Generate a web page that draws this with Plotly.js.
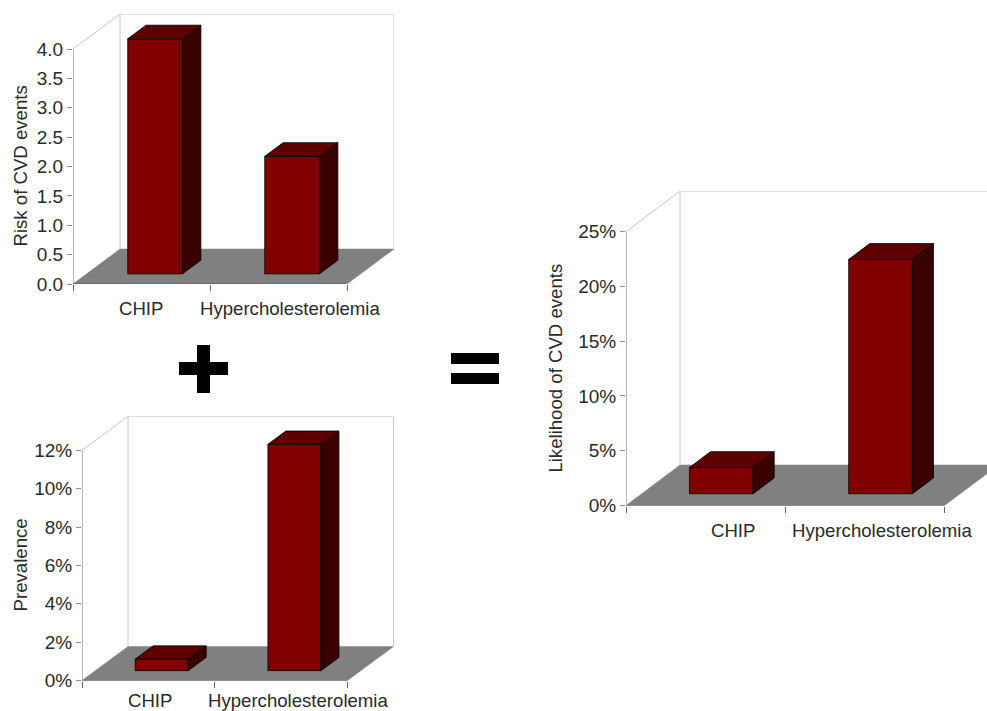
<!DOCTYPE html>
<html>
<head>
<meta charset="utf-8">
<script src="https://cdn.plot.ly/plotly-3.0.1.min.js"></script>
<style>html,body{margin:0;padding:0;background:#fff;}#chart{width:987px;height:711px;}</style>
</head>
<body>
<div id="chart"></div>
<script>
// ---------- data ----------
const categories = ["CHIP", "Hypercholesterolemia"];
const riskValues = [4.0, 2.0];              // Risk of CVD events
const prevalenceValues = [0.6, 11.8];       // Prevalence (%)
const likelihoodValues = [2.4, 21.4];       // Likelihood of CVD events (%)
const riskTicks = [0, 0.5, 1, 1.5, 2, 2.5, 3, 3.5, 4];
const riskTickText = ["0.0", "0.5", "1.0", "1.5", "2.0", "2.5", "3.0", "3.5", "4.0"];
const prevalenceTicks = [0, 2, 4, 6, 8, 10, 12];
const prevalenceTickText = ["0%", "2%", "4%", "6%", "8%", "10%", "12%"];
const likelihoodTicks = [0, 5, 10, 15, 20, 25];
const likelihoodTickText = ["0%", "5%", "10%", "15%", "20%", "25%"];

// ---------- layout geometry (pixels in the 987x711 page) ----------
const W = 987, H = 711;
const FONT = '"Liberation Sans", Arial, Helvetica, sans-serif';
const TXT = '#2a2a2a';
const panels = [
  {ax: '', values: riskValues, ymax: 4, ticks: riskTicks, tickText: riskTickText, title: 'Risk of CVD events',
   left: 73, right: 394, bottom: 284, endX: 347, topTickY: 49, depth: [47, 35], labelX: [141, 290], labelY: 308, titleX: 20},
  {ax: '2', values: likelihoodValues, ymax: 25, ticks: likelihoodTicks, tickText: likelihoodTickText, title: 'Likelihood of CVD events',
   left: 626, right: 987, bottom: 505.5, endX: 944.5, topTickY: 231.7, depth: [54, 40.5], labelX: [733, 882], labelY: 530.5, titleX: 556},
  {ax: '3', values: prevalenceValues, ymax: 12, ticks: prevalenceTicks, tickText: prevalenceTickText, title: 'Prevalence',
   left: 82, right: 394, bottom: 680.5, endX: 347.5, topTickY: 450.3, depth: [46, 34], labelX: [149.5, 298], labelY: 700.5, titleX: 20}
];
const BAR_W = 0.4, F0 = 0.29, F1 = 0.68;
const C_FRONT = '#800000', C_TOP = '#5e0000', C_SIDE = '#3a0000';

const traces = [], shapes = [], annotations = [];
const layout = {
  width: W, height: H, autosize: false,
  margin: {l: 0, r: 0, t: 0, b: 0, pad: 0},
  paper_bgcolor: '#ffffff', plot_bgcolor: 'rgba(0,0,0,0)',
  showlegend: false, hovermode: false,
  font: {family: FONT, size: 18, color: TXT}
};

panels.forEach(p => {
  const pxX = (p.endX - p.left) / 2;
  const pxY = (p.bottom - p.topTickY) / p.ymax;
  const top = p.topTickY - p.depth[1];
  const xr = (p.right - p.left) / pxX;
  const yr = (p.bottom - top) / pxY;
  const dx = p.depth[0] / pxX, dy = p.depth[1] / pxY;
  const xref = 'x' + p.ax, yref = 'y' + p.ax;

  layout['xaxis' + p.ax] = {
    domain: [p.left / W, p.right / W], range: [0, xr], anchor: yref,
    showgrid: false, zeroline: false, showline: false, fixedrange: true,
    tickmode: 'array', tickvals: [0, 1, 2], ticks: 'outside', ticklen: 6, tickcolor: '#666',
    showticklabels: false
  };
  layout['yaxis' + p.ax] = {
    domain: [1 - p.bottom / H, 1 - top / H], range: [0, yr], anchor: xref,
    showgrid: false, zeroline: false, showline: false, fixedrange: true,
    tickmode: 'array', tickvals: p.ticks, ticktext: p.tickText,
    ticks: 'outside', ticklen: 5, tickcolor: '#8c8c8c',
    tickfont: {family: FONT, size: 19, color: TXT}
  };

  // floor
  shapes.push({type: 'path', xref, yref, layer: 'below',
    path: `M0,0 L2,0 L${2 + dx},${dy} L${dx},${dy} Z`,
    fillcolor: '#808080', line: {color: '#808080', width: 0.5}});
  // back walls
  const wall = {color: '#c6c6c6', width: 1};
  const wt = p.ymax + dy;
  [[0, p.ymax, dx, wt], [dx, dy, dx, wt], [dx, wt, 2 + dx, wt], [2 + dx, dy, 2 + dx, wt]].forEach(s => {
    shapes.push({type: 'line', xref, yref, layer: 'below', x0: s[0], y0: s[1], x1: s[2], y1: s[3], line: wall});
  });
  // front axis lines
  shapes.push({type: 'line', xref, yref, layer: 'below', x0: 0, y0: 0, x1: 0, y1: p.ymax, line: {color: '#8c8c8c', width: 1.2}});
  shapes.push({type: 'line', xref, yref, layer: 'below', x0: 0, y0: 0, x1: 2, y1: 0, line: {color: '#555', width: 1.2}});

  // bars: front faces
  const centers = categories.map((c, i) => i + 0.5);
  traces.push({type: 'bar', xaxis: xref, yaxis: yref,
    x: centers.map(c => c + F0 * dx), y: p.values, base: p.values.map(() => F0 * dy),
    width: BAR_W, marker: {color: C_FRONT, line: {color: '#000', width: 0.8}},
    hoverinfo: 'skip', cliponaxis: false});
  // top and side faces
  p.values.forEach((v, i) => {
    const xl = centers[i] - BAR_W / 2, xR = centers[i] + BAR_W / 2;
    const s0x = F0 * dx, s0y = F0 * dy, s1x = F1 * dx, s1y = F1 * dy;
    traces.push({type: 'scatter', mode: 'lines', xaxis: xref, yaxis: yref, fill: 'toself', fillcolor: C_SIDE,
      x: [xR + s0x, xR + s1x, xR + s1x, xR + s0x, xR + s0x],
      y: [s0y, s1y, v + s1y, v + s0y, s0y],
      line: {color: '#000', width: 0.8}, hoverinfo: 'skip'});
    traces.push({type: 'scatter', mode: 'lines', xaxis: xref, yaxis: yref, fill: 'toself', fillcolor: C_TOP,
      x: [xl + s0x, xR + s0x, xR + s1x, xl + s1x, xl + s0x],
      y: [v + s0y, v + s0y, v + s1y, v + s1y, v + s0y],
      line: {color: '#000', width: 0.8}, hoverinfo: 'skip'});
  });

  // category labels
  categories.forEach((c, i) => {
    annotations.push({xref, yref: 'paper', x: (p.labelX[i] - p.left) / pxX, y: 1 - p.labelY / H,
      xanchor: 'center', yanchor: 'middle', text: c, showarrow: false,
      font: {family: FONT, size: 18.6, color: TXT}});
  });
  // y title
  annotations.push({xref: 'paper', yref: 'paper', x: p.titleX / W, y: 1 - ((p.bottom + p.topTickY) / 2) / H,
    xanchor: 'center', yanchor: 'middle', textangle: -90, text: p.title, showarrow: false,
    font: {family: FONT, size: 18.6, color: TXT}});
});

// plus and equals signs
const rectPx = (x0, y0, x1, y1) => ({type: 'rect', xref: 'paper', yref: 'paper',
  x0: x0 / W, x1: x1 / W, y0: 1 - y1 / H, y1: 1 - y0 / H, fillcolor: '#000', line: {width: 0}});
shapes.push(rectPx(179, 362, 228, 375), rectPx(197, 345, 210, 393));
shapes.push(rectPx(451, 353, 499, 364), rectPx(451, 373, 499, 384));

layout.shapes = shapes;
layout.annotations = annotations;
Plotly.newPlot('chart', traces, layout, {staticPlot: true, displayModeBar: false});
</script>
</body>
</html>
